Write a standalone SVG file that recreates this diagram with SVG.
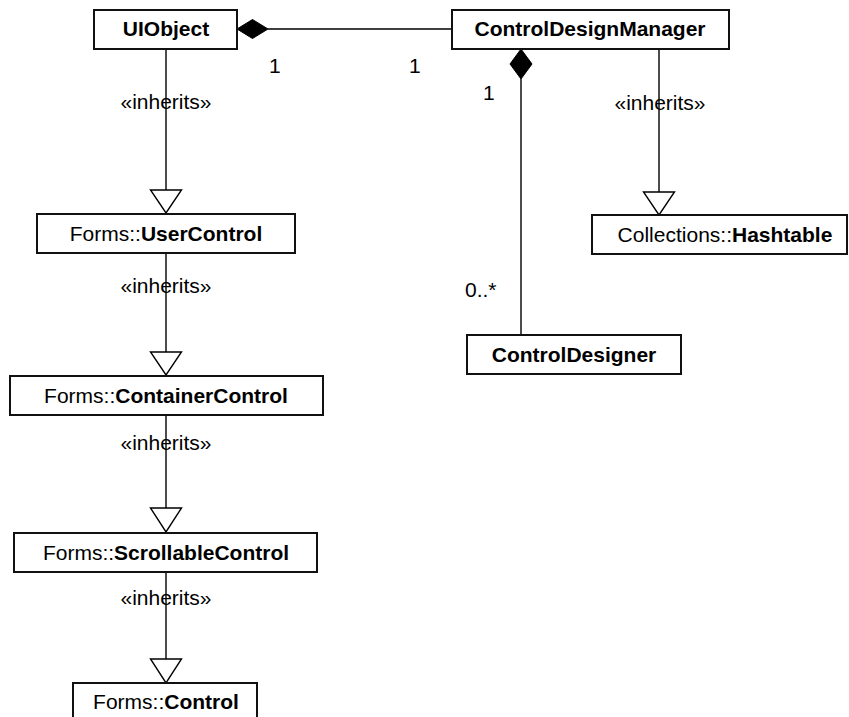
<svg xmlns="http://www.w3.org/2000/svg" width="849" height="717" viewBox="0 0 849 717">
  <style>
    .box { fill: #ffffff; stroke: #111111; stroke-width: 2; }
    .lbl { font-family: "Liberation Sans", Arial, sans-serif; font-size: 21px; fill: #000000; }
    .name { text-anchor: middle; }
    .b { font-weight: bold; }
    .edge { stroke: #000000; stroke-width: 1.4; fill: none; }
    .tri { fill: #ffffff; stroke: #000000; stroke-width: 1.4; }
    .dia { fill: #000000; stroke: #000000; stroke-width: 1; }
  </style>
  <rect width="849" height="717" fill="#ffffff"/>

  <!-- connectors -->
  <g id="connectors">
    <!-- composition: UIObject <>- ControlDesignManager -->
    <line class="edge" x1="268" y1="29" x2="452" y2="29"/>
    <polygon class="dia" points="237,29 252.5,19.5 268,29 252.5,38.5"/>
    <text class="lbl" x="269" y="73">1</text>
    <text class="lbl" x="409" y="73">1</text>

    <!-- composition: ControlDesignManager <>- ControlDesigner -->
    <line class="edge" x1="521" y1="79" x2="521" y2="335"/>
    <polygon class="dia" points="521,49 532,64 521,79 510,64"/>
    <text class="lbl" x="483" y="100">1</text>
    <text class="lbl" x="465" y="297">0..*</text>

    <!-- ControlDesignManager inherits Hashtable -->
    <line class="edge" x1="659" y1="49" x2="659" y2="192"/>
    <polygon class="tri" points="643.5,192 674.5,192 659,215"/>
    <text class="lbl name" x="660" y="110">«inherits»</text>

    <!-- inheritance chain on the left -->
    <line class="edge" x1="166" y1="49" x2="166" y2="190"/>
    <polygon class="tri" points="150.5,190 181.5,190 166,213"/>
    <text class="lbl name" x="166" y="109">«inherits»</text>

    <line class="edge" x1="166" y1="253" x2="166" y2="352"/>
    <polygon class="tri" points="150.5,352 181.5,352 166,375"/>
    <text class="lbl name" x="166" y="293">«inherits»</text>

    <line class="edge" x1="166" y1="415" x2="166" y2="508"/>
    <polygon class="tri" points="150.5,508 181.5,508 166,532"/>
    <text class="lbl name" x="166" y="450">«inherits»</text>

    <line class="edge" x1="166" y1="572" x2="166" y2="659"/>
    <polygon class="tri" points="150.5,659 181.5,659 166,683"/>
    <text class="lbl name" x="166" y="605">«inherits»</text>
  </g>

  <!-- classes -->
  <g id="UIObject">
    <rect class="box" x="94" y="10" width="143" height="39"/>
    <text class="lbl name b" x="166" y="36">UIObject</text>
  </g>

  <g id="ControlDesignManager">
    <rect class="box" x="452" y="10" width="277" height="39"/>
    <text class="lbl name b" x="590" y="36">ControlDesignManager</text>
  </g>

  <g id="UserControl">
    <rect class="box" x="37" y="214" width="258" height="39"/>
    <text class="lbl name" x="166" y="241">Forms::<tspan class="b">UserControl</tspan></text>
  </g>

  <g id="Hashtable">
    <rect class="box" x="592" y="215" width="255" height="39"/>
    <text class="lbl name" x="725" y="242">Collections::<tspan class="b">Hashtable</tspan></text>
  </g>

  <g id="ControlDesigner">
    <rect class="box" x="467" y="335" width="214" height="39"/>
    <text class="lbl name b" x="574" y="362">ControlDesigner</text>
  </g>

  <g id="ContainerControl">
    <rect class="box" x="10" y="376" width="313" height="39"/>
    <text class="lbl name" x="166" y="403">Forms::<tspan class="b">ContainerControl</tspan></text>
  </g>

  <g id="ScrollableControl">
    <rect class="box" x="14" y="533" width="303" height="39"/>
    <text class="lbl name" x="166" y="560">Forms::<tspan class="b">ScrollableControl</tspan></text>
  </g>

  <g id="Control">
    <rect class="box" x="73" y="683" width="184" height="40"/>
    <text class="lbl name" x="166" y="709">Forms::<tspan class="b">Control</tspan></text>
  </g>
</svg>
